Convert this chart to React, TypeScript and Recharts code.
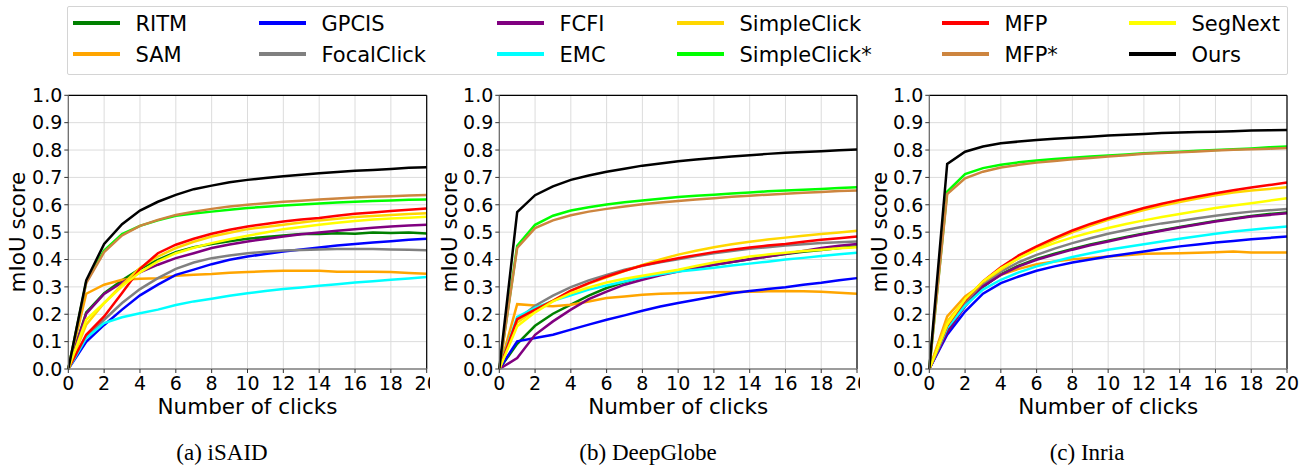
import React from 'react';
import {
  LineChart,
  Line,
  XAxis,
  YAxis,
  CartesianGrid,
  ReferenceLine,
} from 'recharts';

// ── Data ──────────────────────────────────────────────────────────────────────

const clicks = [0, 1, 2, 3, 4, 5, 6, 7, 8, 9, 10, 11, 12, 13, 14, 15, 16, 17, 18, 19, 20];
const xTicks = [0, 2, 4, 6, 8, 10, 12, 14, 16, 18, 20];
const yTicks = [0, 0.1, 0.2, 0.3, 0.4, 0.5, 0.6, 0.7, 0.8, 0.9, 1.0];

// plotting order (column-major legend order)
const series = [
  { key: 'ritm', name: 'RITM', color: '#008000' },
  { key: 'sam', name: 'SAM', color: '#ffa500' },
  { key: 'gpcis', name: 'GPCIS', color: '#0000ff' },
  { key: 'focal', name: 'FocalClick', color: '#808080' },
  { key: 'fcfi', name: 'FCFI', color: '#800080' },
  { key: 'emc', name: 'EMC', color: '#00ffff' },
  { key: 'simple', name: 'SimpleClick', color: '#ffd700' },
  { key: 'simpleStar', name: 'SimpleClick*', color: '#00ff00' },
  { key: 'mfp', name: 'MFP', color: '#ff0000' },
  { key: 'mfpStar', name: 'MFP*', color: '#cd853f' },
  { key: 'segnext', name: 'SegNext', color: '#ffff00' },
  { key: 'ours', name: 'Ours', color: '#000000' },
];

// (a) iSAID
const isaid: Record<string, number[]> = {
  ritm: [0, 0.207, 0.277, 0.324, 0.366, 0.399, 0.427, 0.445, 0.457, 0.467, 0.476, 0.482, 0.488, 0.493, 0.493, 0.496, 0.494, 0.499, 0.497, 0.499, 0.495],
  sam: [0, 0.275, 0.308, 0.326, 0.33, 0.332, 0.341, 0.344, 0.347, 0.352, 0.354, 0.357, 0.359, 0.359, 0.359, 0.355, 0.355, 0.355, 0.354, 0.351, 0.348],
  gpcis: [0, 0.099, 0.161, 0.217, 0.269, 0.308, 0.344, 0.363, 0.383, 0.399, 0.411, 0.42, 0.429, 0.437, 0.444, 0.451, 0.457, 0.462, 0.467, 0.472, 0.476],
  focal: [0, 0.119, 0.18, 0.241, 0.292, 0.332, 0.366, 0.389, 0.405, 0.415, 0.423, 0.428, 0.433, 0.435, 0.437, 0.438, 0.438, 0.438, 0.437, 0.436, 0.434],
  fcfi: [0, 0.202, 0.274, 0.316, 0.353, 0.381, 0.405, 0.423, 0.442, 0.455, 0.466, 0.475, 0.484, 0.492, 0.499, 0.505, 0.511, 0.516, 0.521, 0.524, 0.527],
  emc: [0, 0.113, 0.168, 0.189, 0.204, 0.217, 0.234, 0.247, 0.257, 0.268, 0.277, 0.285, 0.292, 0.298, 0.304, 0.31, 0.316, 0.321, 0.326, 0.331, 0.336],
  simple: [0, 0.162, 0.241, 0.308, 0.369, 0.411, 0.442, 0.465, 0.484, 0.498, 0.511, 0.519, 0.527, 0.535, 0.543, 0.549, 0.555, 0.559, 0.563, 0.566, 0.569],
  simpleStar: [0, 0.318, 0.433, 0.493, 0.523, 0.543, 0.56, 0.568, 0.575, 0.582, 0.588, 0.593, 0.597, 0.601, 0.605, 0.608, 0.611, 0.614, 0.616, 0.618, 0.619],
  mfp: [0, 0.125, 0.192, 0.278, 0.366, 0.423, 0.454, 0.476, 0.494, 0.509, 0.521, 0.53, 0.539, 0.546, 0.552, 0.56, 0.567, 0.572, 0.577, 0.582, 0.586],
  mfpStar: [0, 0.314, 0.427, 0.488, 0.523, 0.545, 0.563, 0.575, 0.585, 0.594, 0.6, 0.606, 0.611, 0.615, 0.619, 0.623, 0.627, 0.629, 0.631, 0.634, 0.636],
  segnext: [0, 0.18, 0.241, 0.302, 0.353, 0.393, 0.423, 0.443, 0.46, 0.474, 0.487, 0.499, 0.511, 0.519, 0.527, 0.534, 0.541, 0.546, 0.55, 0.553, 0.556],
  ours: [0, 0.324, 0.457, 0.529, 0.579, 0.611, 0.636, 0.657, 0.67, 0.682, 0.691, 0.698, 0.704, 0.71, 0.715, 0.72, 0.724, 0.727, 0.731, 0.735, 0.737],
};

// (b) DeepGlobe
const deepglobe: Record<string, number[]> = {
  ritm: [0, 0.092, 0.158, 0.202, 0.235, 0.268, 0.296, 0.318, 0.335, 0.348, 0.359, 0.37, 0.381, 0.391, 0.401, 0.411, 0.42, 0.428, 0.435, 0.442, 0.448],
  sam: [0, 0.237, 0.232, 0.229, 0.235, 0.247, 0.259, 0.265, 0.271, 0.275, 0.277, 0.279, 0.28, 0.281, 0.282, 0.284, 0.285, 0.284, 0.282, 0.279, 0.275],
  gpcis: [0, 0.101, 0.113, 0.125, 0.144, 0.162, 0.18, 0.196, 0.213, 0.228, 0.241, 0.253, 0.265, 0.277, 0.285, 0.292, 0.299, 0.308, 0.315, 0.324, 0.332],
  focal: [0, 0.18, 0.231, 0.268, 0.299, 0.324, 0.344, 0.363, 0.377, 0.39, 0.401, 0.413, 0.423, 0.431, 0.439, 0.445, 0.451, 0.456, 0.46, 0.463, 0.466],
  fcfi: [0, 0.04, 0.125, 0.174, 0.217, 0.255, 0.283, 0.308, 0.326, 0.342, 0.356, 0.369, 0.381, 0.391, 0.401, 0.411, 0.421, 0.431, 0.442, 0.45, 0.457],
  emc: [0, 0.19, 0.223, 0.249, 0.269, 0.29, 0.305, 0.32, 0.335, 0.346, 0.356, 0.363, 0.37, 0.378, 0.385, 0.392, 0.4, 0.406, 0.413, 0.419, 0.425],
  simple: [0, 0.17, 0.215, 0.25, 0.285, 0.312, 0.335, 0.358, 0.38, 0.4, 0.418, 0.432, 0.445, 0.456, 0.465, 0.473, 0.48, 0.487, 0.493, 0.499, 0.505],
  simpleStar: [0, 0.45, 0.527, 0.56, 0.579, 0.591, 0.601, 0.609, 0.616, 0.622, 0.628, 0.633, 0.637, 0.641, 0.645, 0.649, 0.652, 0.655, 0.658, 0.661, 0.664],
  mfp: [0, 0.182, 0.217, 0.249, 0.286, 0.314, 0.338, 0.359, 0.378, 0.392, 0.405, 0.416, 0.427, 0.436, 0.444, 0.451, 0.457, 0.465, 0.472, 0.478, 0.484],
  mfpStar: [0, 0.442, 0.515, 0.543, 0.562, 0.575, 0.585, 0.594, 0.602, 0.608, 0.614, 0.619, 0.624, 0.629, 0.633, 0.637, 0.64, 0.644, 0.647, 0.65, 0.652],
  segnext: [0, 0.156, 0.207, 0.247, 0.277, 0.298, 0.316, 0.33, 0.341, 0.352, 0.363, 0.376, 0.389, 0.4, 0.411, 0.418, 0.425, 0.431, 0.436, 0.441, 0.445],
  ours: [0, 0.573, 0.635, 0.667, 0.691, 0.707, 0.721, 0.732, 0.743, 0.751, 0.759, 0.765, 0.771, 0.776, 0.781, 0.786, 0.79, 0.793, 0.796, 0.799, 0.802],
};

// (c) Inria
const inria: Record<string, number[]> = {
  ritm: [0, 0.14, 0.232, 0.3, 0.346, 0.378, 0.402, 0.421, 0.439, 0.455, 0.469, 0.482, 0.495, 0.507, 0.519, 0.53, 0.541, 0.55, 0.559, 0.566, 0.572],
  sam: [0, 0.192, 0.265, 0.31, 0.344, 0.366, 0.383, 0.393, 0.401, 0.406, 0.411, 0.416, 0.421, 0.422, 0.423, 0.425, 0.427, 0.429, 0.426, 0.426, 0.426],
  gpcis: [0, 0.125, 0.21, 0.275, 0.314, 0.338, 0.359, 0.375, 0.389, 0.4, 0.411, 0.42, 0.429, 0.439, 0.448, 0.455, 0.462, 0.468, 0.474, 0.479, 0.484],
  focal: [0, 0.153, 0.241, 0.308, 0.356, 0.39, 0.417, 0.44, 0.46, 0.478, 0.494, 0.508, 0.521, 0.532, 0.541, 0.551, 0.56, 0.568, 0.575, 0.58, 0.585],
  fcfi: [0, 0.134, 0.229, 0.302, 0.344, 0.375, 0.399, 0.418, 0.436, 0.452, 0.466, 0.48, 0.493, 0.505, 0.517, 0.528, 0.539, 0.548, 0.557, 0.563, 0.569],
  emc: [0, 0.15, 0.231, 0.29, 0.326, 0.353, 0.375, 0.393, 0.409, 0.423, 0.436, 0.446, 0.456, 0.466, 0.476, 0.485, 0.494, 0.502, 0.509, 0.515, 0.521],
  simple: [0, 0.174, 0.253, 0.318, 0.363, 0.405, 0.442, 0.472, 0.499, 0.523, 0.545, 0.563, 0.581, 0.596, 0.61, 0.623, 0.635, 0.645, 0.652, 0.658, 0.664],
  simpleStar: [0, 0.648, 0.712, 0.734, 0.746, 0.755, 0.762, 0.767, 0.772, 0.776, 0.78, 0.784, 0.788, 0.791, 0.794, 0.797, 0.8, 0.803, 0.806, 0.81, 0.813],
  mfp: [0, 0.158, 0.251, 0.32, 0.372, 0.415, 0.448, 0.478, 0.506, 0.53, 0.551, 0.57, 0.588, 0.604, 0.618, 0.63, 0.642, 0.653, 0.663, 0.672, 0.681],
  mfpStar: [0, 0.639, 0.697, 0.721, 0.736, 0.746, 0.754, 0.76, 0.766, 0.771, 0.776, 0.781, 0.786, 0.789, 0.792, 0.795, 0.798, 0.801, 0.803, 0.805, 0.807],
  segnext: [0, 0.162, 0.255, 0.32, 0.368, 0.405, 0.436, 0.46, 0.481, 0.499, 0.515, 0.53, 0.543, 0.555, 0.566, 0.577, 0.588, 0.597, 0.606, 0.615, 0.624],
  ours: [0, 0.749, 0.794, 0.813, 0.825, 0.831, 0.837, 0.841, 0.845, 0.849, 0.853, 0.856, 0.859, 0.862, 0.864, 0.866, 0.867, 0.869, 0.871, 0.872, 0.873],
};

// ── Layout ────────────────────────────────────────────────────────────────────

const FONT = '"DejaVu Sans", Verdana, sans-serif';
const SERIF = '"Liberation Serif", "Times New Roman", serif';

const panels = [
  { caption: '(a) iSAID', values: isaid, left: 0, width: 430, right: 3.3, yAxisW: 60.3, labelOff: 9.5, capX: 222 },
  { caption: '(b) DeepGlobe', values: deepglobe, left: 430, width: 430, right: 3, yAxisW: 61.3, labelOff: 11.5, capX: 648 },
  { caption: '(c) Inria', values: inria, left: 860, width: 440, right: 13, yAxisW: 61.3, labelOff: 11.5, capX: 1087 },
];

// legend box + columns (line start x), two rows
const LEG_LEFT = 67;
const LEG_TOP = 6;
const LEG_BORDER = 1.5;
const legendCols = [73, 259, 497, 677, 942, 1129];
const legendRowsY = [23.5, 54.5];

function toRows(values: Record<string, number[]>) {
  return clicks.map((c, i) => {
    const row: Record<string, number> = { click: c };
    series.forEach((s) => (row[s.key] = values[s.key][i]));
    return row;
  });
}

function Panel({ p }: { p: (typeof panels)[number] }) {
  const data = toRows(p.values);
  const tick = { fill: '#000', fontSize: 19, fontFamily: FONT };
  return (
    <div style={{ position: 'absolute', left: p.left, top: 80 }}>
      <LineChart
        width={p.width}
        height={340}
        data={data}
        margin={{ top: 15.3, right: p.right, left: 8, bottom: 1 }}
      >
        <CartesianGrid stroke="#dcdcdc" strokeWidth={1} />
        <XAxis
          dataKey="click"
          type="number"
          domain={[0, 20]}
          ticks={xTicks}
          interval={0}
          height={50}
          tick={tick}
          tickSize={4}
          tickMargin={3.5}
          tickLine={{ stroke: '#333' }}
          axisLine={{ stroke: '#808080', strokeWidth: 1.5 }}
          label={{ value: 'Number of clicks', position: 'insideBottom', offset: 5, fontSize: 21.5, fill: '#000', fontFamily: FONT }}
        />
        <YAxis
          type="number"
          domain={[0, 1]}
          ticks={yTicks}
          interval={0}
          width={p.yAxisW}
          tick={tick}
          tickSize={4}
          tickMargin={2}
          tickFormatter={(v: number) => v.toFixed(1)}
          tickLine={{ stroke: '#333' }}
          axisLine={{ stroke: '#666', strokeWidth: 1.2 }}
          label={{
            value: 'mIoU score',
            angle: -90,
            position: 'insideLeft',
            offset: p.labelOff,
            fontSize: 21.5,
            fill: '#000',
            fontFamily: FONT,
            style: { textAnchor: 'middle' },
          }}
        />
        {series.map((s) => (
          <Line
            key={s.key}
            type="linear"
            dataKey={s.key}
            name={s.name}
            stroke={s.color}
            strokeWidth={2.5}
            dot={false}
            activeDot={false}
            isAnimationActive={false}
          />
        ))}
        {/* top and right spines */}
        <ReferenceLine y={1} stroke="#000" strokeWidth={1.2} />
        <ReferenceLine x={20} stroke="#000" strokeWidth={1.2} />
      </LineChart>
    </div>
  );
}

function LegendBox() {
  const inner = LEG_LEFT + LEG_BORDER;
  const innerTop = LEG_TOP + LEG_BORDER;
  return (
    <div
      style={{
        position: 'absolute',
        left: LEG_LEFT,
        top: LEG_TOP,
        width: 1221,
        height: 69,
        boxSizing: 'border-box',
        border: `${LEG_BORDER}px solid #d4d4d4`,
        borderRadius: 2,
        background: '#fff',
      }}
    >
      {series.map((s, i) => {
        const col = Math.floor(i / 2);
        const lineY = legendRowsY[i % 2] - innerTop;
        const x = legendCols[col] - inner;
        return (
          <React.Fragment key={s.key}>
            <div
              style={{
                position: 'absolute',
                left: x,
                top: lineY - 2.25,
                width: 47,
                height: 4.5,
                background: s.color,
              }}
            />
            <div
              style={{
                position: 'absolute',
                left: x + 63,
                top: lineY - 8.6,
                fontFamily: FONT,
                fontSize: 21,
                lineHeight: '21px',
                whiteSpace: 'nowrap',
                color: '#000',
              }}
            >
              {s.name}
            </div>
          </React.Fragment>
        );
      })}
    </div>
  );
}

export default function App() {
  return (
    <div style={{ position: 'absolute', left: 0, top: 0, width: 1310, height: 468, background: '#fff', overflow: 'hidden' }}>
      {panels.map((p) => (
        <Panel key={p.caption} p={p} />
      ))}
      <LegendBox />
      {panels.map((p) => (
        <div
          key={'cap' + p.caption}
          style={{
            position: 'absolute',
            left: p.capX - 150,
            width: 300,
            top: 441,
            textAlign: 'center',
            fontFamily: SERIF,
            fontSize: 23,
            lineHeight: '23px',
            color: '#000',
          }}
        >
          {p.caption}
        </div>
      ))}
    </div>
  );
}
